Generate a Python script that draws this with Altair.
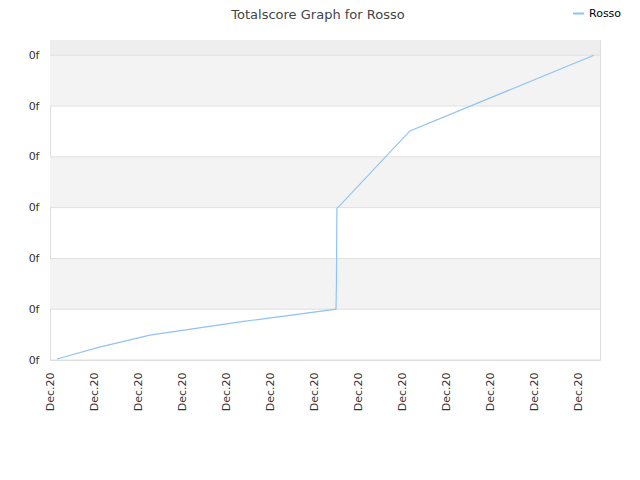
import altair as alt
import pandas as pd

# data
xs = [0.16, 1.1, 2.27, 4.4, 6.5, 6.51, 6.52, 8.18, 12.36]
ys = [0.02, 0.25, 0.49, 0.76, 1.0, 1.5, 2.98, 4.51, 6.0]
series = ["Rosso"] * len(xs)

band_lo = [1, 3, 5, 6]
band_hi = [2, 4, 6, 6.3]
band_col = ["#f3f3f3", "#f3f3f3", "#f3f3f3", "#eeeeee"]

x_ticks = list(range(13))
y_ticks = list(range(7))

line_df = pd.DataFrame({"x": xs, "y": ys, "s": series})
band_df = pd.DataFrame({"lo": band_lo, "hi": band_hi, "c": band_col})
grid_df = pd.DataFrame({"g": y_ticks})

xscale = alt.Scale(domain=[0, 12.5], nice=False, zero=False)
yscale = alt.Scale(domain=[0, 6.3], nice=False, zero=False)

yaxis = alt.Axis(values=y_ticks, labelExpr="'0f'", ticks=False, grid=False,
                 domain=False, labelPadding=11, labelFontSize=11,
                 labelColor="#333333")

bands = alt.Chart(band_df).mark_rect().encode(
    y=alt.Y("lo:Q", scale=yscale, title=None, axis=yaxis),
    y2="hi:Q",
    x=alt.value(0),
    x2=alt.value(550),
    fill=alt.Fill("c:N", scale=None, legend=None),
)

grid = alt.Chart(grid_df).mark_rule(color="#e0e0e0", strokeWidth=1).encode(
    y=alt.Y("g:Q", scale=yscale, title=None, axis=yaxis),
    x=alt.value(0),
    x2=alt.value(550),
)

line = alt.Chart(line_df).mark_line(strokeWidth=1.2).encode(
    x=alt.X("x:Q", scale=xscale, title=None,
            axis=alt.Axis(values=x_ticks, labelExpr="'Dec.20'", labelAngle=-90,
                          labelAlign="right", labelBaseline="middle",
                          labelPadding=12, ticks=False, grid=False, domain=False,
                          labelFontSize=11, labelColor="#333333")),
    y=alt.Y("y:Q", scale=yscale, title=None, axis=yaxis),
    color=alt.Color("s:N", scale=alt.Scale(range=["#90c3f5"]),
                    legend=alt.Legend(title=None, orient="none", legendX=522, legendY=-33,
                                      symbolType="stroke", symbolStrokeWidth=2,
                                      symbolSize=120, labelFontSize=11,
                                      labelColor="#000000")),
)

chart = alt.layer(bands, grid, line).properties(
    width=550, height=320,
    title=alt.TitleParams("Totalscore Graph for Rosso", fontSize=13, fontWeight="normal",
                          color="#444444", dx=-7, offset=-15),
    autosize=alt.AutoSizeParams(type="none"),
    padding={"left": 42, "top": 32, "right": 30, "bottom": 100},
).configure(font="DejaVu Sans").configure_view(stroke="#dddddd")

chart.save("out.html", embed_options={"renderer": "svg", "actions": False})
